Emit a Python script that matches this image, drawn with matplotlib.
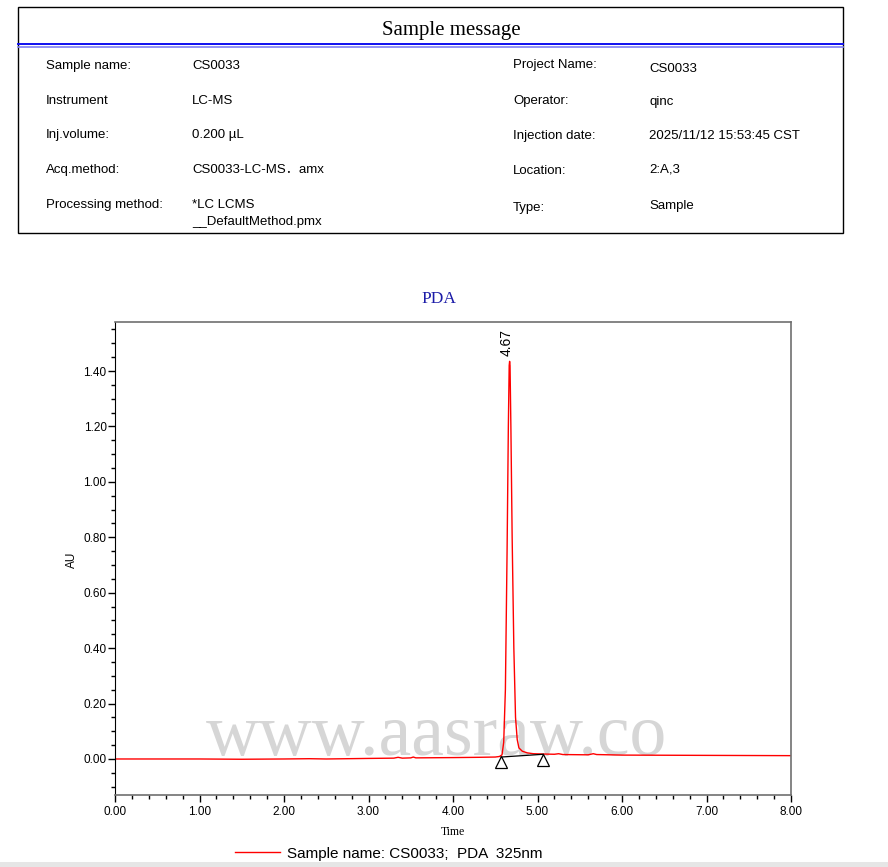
#cromatograma PDA com tabela de informacoes da amostra
import matplotlib.pyplot as plt
from matplotlib.ticker import MultipleLocator, FormatStrFormatter
from matplotlib.lines import Line2D
from matplotlib.patches import Rectangle

# dados (tempo em min, absorbancia em AU)
tempo = [0.00, 0.50, 1.00, 1.50, 2.00, 2.30, 2.50, 3.00, 3.30, 3.35, 3.40,
         3.50, 3.53, 3.56, 4.00, 4.30, 4.50, 4.55, 4.58, 4.60, 4.62, 4.64,
         4.655, 4.665, 4.67, 4.675, 4.685, 4.70, 4.72, 4.74, 4.76, 4.78,
         4.82, 4.88, 4.95, 5.05, 5.20, 5.25, 5.30, 5.60, 5.66, 5.70, 6.00,
         7.00, 8.00]
au = [0.000, 0.000, 0.000, -0.001, 0.000, 0.001, 0.000, 0.002, 0.003, 0.006,
      0.003, 0.004, 0.007, 0.004, 0.005, 0.006, 0.007, 0.009, 0.015, 0.06,
      0.25, 0.75, 1.20, 1.42, 1.435, 1.42, 1.20, 0.80, 0.40, 0.15, 0.07,
      0.04, 0.028, 0.022, 0.019, 0.018, 0.017, 0.019, 0.016, 0.015, 0.019,
      0.016, 0.014, 0.013, 0.012]

pico_tempo = 4.67
pico_altura = 1.435
base_x = [4.57, 5.07]      # inicio e fim da integracao
base_y = [0.007, 0.017]

# informacoes da amostra
rotulos_esq = ["Sample name:", "Instrument", "Inj.volume:", "Acq.method:", "Processing method:"]
valores_esq = ["CS0033", "LC-MS", "0.200 \u00b5L", "CS0033-LC-MS\uff0eamx", "*LC LCMS\n__DefaultMethod.pmx"]
rotulos_dir = ["Project Name:", "Operator:", "Injection date:", "Location:", "Type:"]
valores_dir = ["CS0033", "qinc", "2025/11/12 15:53:45 CST", "2:A,3", "Sample"]

W, H = 888, 867
def fx(px):
    return px / W
def fy(py):
    return 1 - py / H

plt.rcParams['font.family'] = ['Liberation Sans', 'DejaVu Sans']
fig = plt.figure(figsize=(W / 100, H / 100), dpi=100)

# caixa da tabela
fig.patches.append(Rectangle((fx(18), fy(233)), fx(843) - fx(18), fy(7) - fy(233),
                             transform=fig.transFigure, fill=False, edgecolor="k", lw=1))
fig.text(fx(451), fy(30), "Sample message", ha="center", va="center",
         fontsize=15, family="Liberation Serif")
fig.add_artist(Line2D([fx(18), fx(843)], [fy(44), fy(44)], color="#1010f0", lw=1.4,
                      transform=fig.transFigure))
fig.add_artist(Line2D([fx(18), fx(843)], [fy(47.3), fy(47.3)], color="#8080f4", lw=1.2,
                      transform=fig.transFigure))

linhas_y = [66, 101, 135, 170, 205]
dir_y_rot = [65, 101, 136, 171, 208]
dir_y_val = [69, 102, 136, 170, 206]
for i in range(5):
    fig.text(fx(46), fy(linhas_y[i]), rotulos_esq[i], va="center", fontsize=9.5)
    if "\n" in valores_esq[i]:
        a, b = valores_esq[i].split("\n")
        fig.text(fx(192), fy(205), a, va="center", fontsize=9.5)
        fig.text(fx(192), fy(222), b, va="center", fontsize=9.5)
    else:
        fig.text(fx(192), fy(linhas_y[i]), valores_esq[i], va="center", fontsize=9.5,
                 family=['Liberation Sans', 'Noto Sans CJK SC'])
    fig.text(fx(513), fy(dir_y_rot[i]), rotulos_dir[i], va="center", fontsize=9.5)
    fig.text(fx(649), fy(dir_y_val[i]), valores_dir[i], va="center", fontsize=9.5)

# grafico
ax = fig.add_axes([fx(115), fy(795), fx(791) - fx(115), fy(322) - fy(795)])
ax.set_xlim(0, 8)
ax.set_ylim(-0.13, 1.577)

ax.text(3.80, 0.014, "www.aasraw.co", fontsize=53, color="#d6d6d6", ha="center",
        va="baseline", family="Liberation Serif", zorder=0)
ax.plot(tempo, au, color="#ff0000", lw=1.0, zorder=2)
ax.plot(base_x, base_y, color="k", lw=0.9, zorder=3)
ax.plot(base_x, [-0.012, -0.002], linestyle="none", marker="^", markersize=9,
        markerfacecolor="none", markeredgecolor="k", markeredgewidth=0.9, zorder=3)
ax.text(pico_tempo - 0.04, pico_altura + 0.02, "%.2f" % pico_tempo, rotation=90,
        ha="center", va="bottom", fontsize=10)

ax.xaxis.set_major_locator(MultipleLocator(1))
ax.xaxis.set_minor_locator(MultipleLocator(0.2))
ax.yaxis.set_major_locator(MultipleLocator(0.2))
ax.yaxis.set_minor_locator(MultipleLocator(0.05))
ax.xaxis.set_major_formatter(FormatStrFormatter("%.2f"))
ax.yaxis.set_major_formatter(FormatStrFormatter("%.2f"))
ax.tick_params(which="major", length=5, width=1, labelsize=8.5, pad=3)
ax.tick_params(which="minor", length=3, width=1)
ax.tick_params(axis="y", pad=1)

for lado in ["top", "right", "bottom"]:
    ax.spines[lado].set_color("#707070")
    ax.spines[lado].set_linewidth(1.2)
ax.spines["left"].set_color("k")

fig.text(fx(439), fy(299), "PDA", color="#1c1ca8", fontsize=12.5,
         family="Liberation Serif", ha="center", va="center")
ax.set_xlabel("Time", fontsize=8.5, family="Liberation Serif", labelpad=6)
ax.set_ylabel("AU", fontsize=8.5)
ax.yaxis.set_label_coords((78 - 115) / 676, (795 - 560) / 473)

# legenda
fig.add_artist(Line2D([fx(235), fx(280)], [fy(852), fy(852)], color="#ff0000", lw=1,
                      transform=fig.transFigure))
fig.text(fx(287), fy(854), "Sample name: CS0033;  PDA  325nm", va="center", fontsize=11)
fig.patches.append(Rectangle((0, 0), 1, fy(862), transform=fig.transFigure,
                             color="#e6e6e6", lw=0))

plt.savefig("out.png", dpi=100)
